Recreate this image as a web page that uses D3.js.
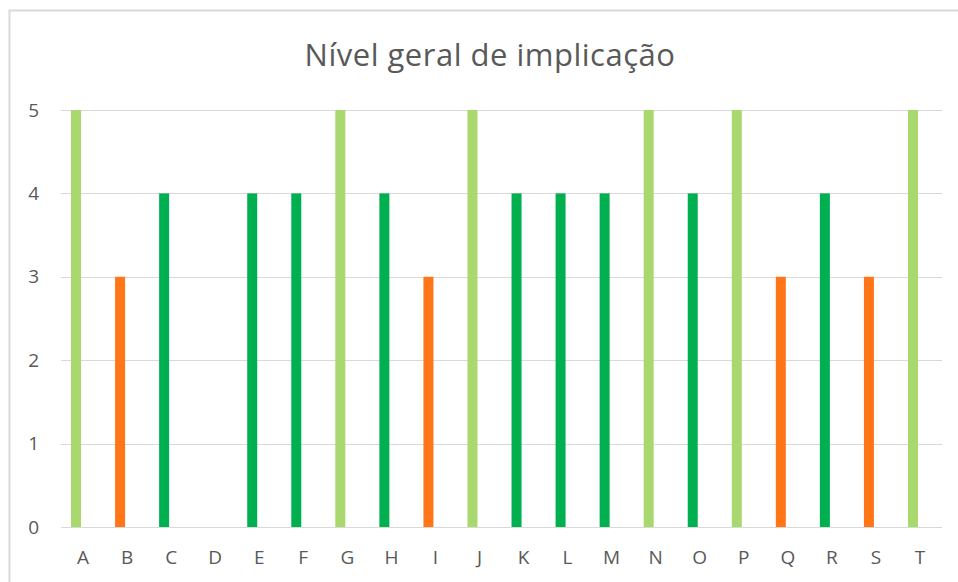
<!DOCTYPE html>
<html>
<head>
<meta charset="utf-8">
<script src="https://cdn.jsdelivr.net/npm/d3@7"></script>
<style>
  body { margin: 0; background: #ffffff; }
  svg { display: block; }
</style>
</head>
<body>
<div id="chart"></div>
<script>
const title = 'Nível geral de implicação';
const categories = ['A','B','C','D','E','F','G','H','I','J','K','L','M','N','O','P','Q','R','S','T'];
const values = [5, 3, 4, null, 4, 4, 5, 4, 3, 5, 4, 4, 4, 5, 4, 5, 3, 4, 3, 5];
const yTicks = [0, 1, 2, 3, 4, 5];
const levelColors = { 5: '#a9d86e', 4: '#00b050', 3: '#ff7518' };

const W = 958, H = 582;
const margin = { top: 110, right: 16, bottom: 55, left: 61 };
const width = 942 - margin.left;
const height = 527 - margin.top;

const svg = d3.select('#chart')
  .append('svg')
    .attr('width', W)
    .attr('height', H);

// chart frame
svg.append('rect')
  .attr('x', 9.5)
  .attr('y', 10.5)
  .attr('width', W + 20)
  .attr('height', H + 20)
  .style('fill', '#ffffff')
  .style('stroke', '#d9d9d9')
  .style('stroke-width', 2);

const g = svg.append('g')
  .attr('transform', 'translate(' + margin.left + ',' + margin.top + ')');

const x = d3.scaleBand()
  .domain(categories)
  .range([0, width]);

const y = d3.scaleLinear()
  .domain([0, 5])
  .range([height, 0]);

// gridlines
g.append('g')
  .selectAll('line')
  .data(yTicks)
  .enter()
  .append('line')
    .attr('x1', 0)
    .attr('x2', width)
    .attr('y1', d => Math.round(y(d)) + 0.5)
    .attr('y2', d => Math.round(y(d)) + 0.5)
    .style('stroke', '#d9d9d9')
    .style('stroke-width', 1);

// y labels
const yAxis = g.append('g')
  .call(d3.axisLeft(y).tickValues(yTicks).tickFormat(d3.format('d')).tickSize(0).tickPadding(22));
yAxis.select('.domain').remove();
yAxis.selectAll('text')
  .style('font-family', '"Open Sans", sans-serif')
  .style('font-size', '19px')
  .style('fill', '#595959');

// x labels
const xAxis = g.append('g')
  .attr('transform', 'translate(0,' + height + ')')
  .call(d3.axisBottom(x).tickSize(0).tickPadding(22));
xAxis.select('.domain').remove();
xAxis.selectAll('text')
  .attr('dy', null)
  .attr('y', 37)
  .style('font-family', '"Open Sans", sans-serif')
  .style('font-size', '19px')
  .style('fill', '#595959');

// bars: thin, sitting left of the category centre
const barW = 10;
const barShift = -7;
g.append('g')
  .selectAll('rect')
  .data(categories.map((c, i) => ({ cat: c, val: values[i] })).filter(d => d.val !== null))
  .enter()
  .append('rect')
    .attr('x', d => x(d.cat) + x.bandwidth() / 2 + barShift - barW / 2)
    .attr('y', d => y(d.val))
    .attr('width', barW)
    .attr('height', d => y(0) - y(d.val))
    .style('fill', d => levelColors[d.val]);

// title
svg.append('text')
  .attr('x', 490)
  .attr('y', 66)
  .attr('text-anchor', 'middle')
  .style('font-family', '"Open Sans", sans-serif')
  .style('font-size', '31px')
  .style('letter-spacing', '0.5px')
  .style('fill', '#595959')
  .text(title);
</script>
</body>
</html>
